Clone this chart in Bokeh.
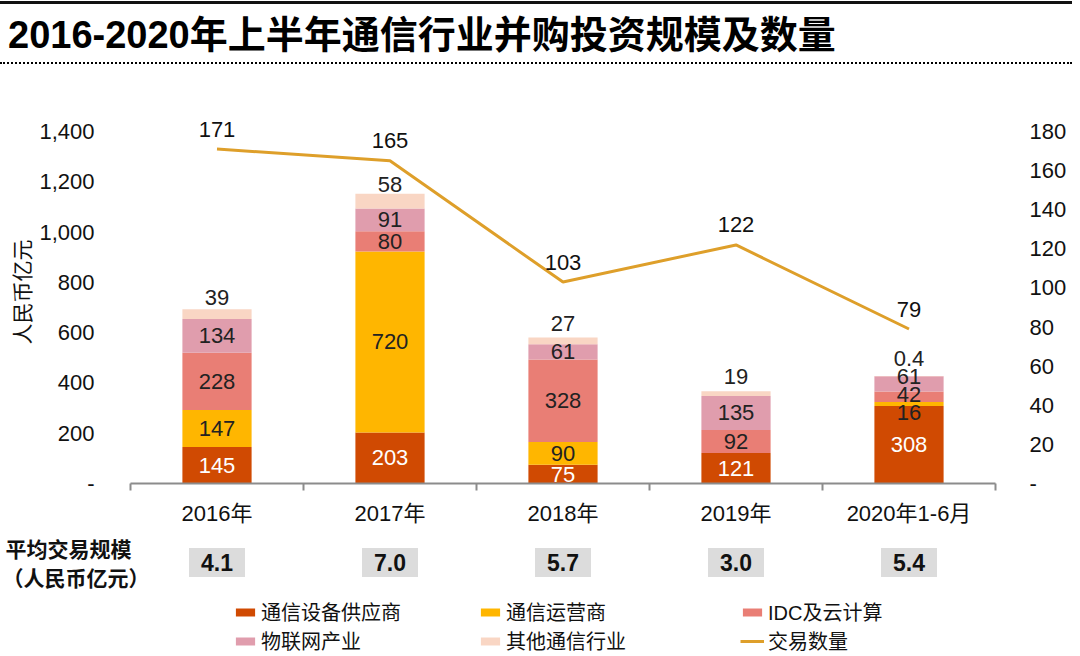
from bokeh.plotting import figure
from bokeh.models import (ColumnDataSource, Range1d, LinearAxis, FixedTicker, NumeralTickFormatter,
                          Label, Legend, LegendItem, Div)
from bokeh.layouts import column
from bokeh.core.properties import value
from bokeh.embed import file_html
from bokeh.resources import INLINE

# ---------------- data ----------------
title_text = "2016-2020年上半年通信行业并购投资规模及数量"
years = ["2016年", "2017年", "2018年", "2019年", "2020年1-6月"]
series_names = ["通信设备供应商", "通信运营商", "IDC及云计算", "物联网产业", "其他通信行业"]
equipment = [145, 203, 75, 121, 308]
operators = [147, 720, 90, 0, 16]
idc_cloud = [228, 80, 328, 92, 42]
iot = [134, 91, 61, 135, 61]
other = [39, 58, 27, 19, 0.4]
deal_count = [171, 165, 103, 122, 79]
avg_size = [4.1, 7.0, 5.7, 3.0, 5.4]
line_name = "交易数量"
avg_label_1 = "平均交易规模"
avg_label_2 = "（人民币亿元）"
y_label = "人民币亿元"
left_ticks = [0, 200, 400, 600, 800, 1000, 1200, 1400]
right_ticks = [0, 20, 40, 60, 80, 100, 120, 140, 160, 180]

# ---------------- style ----------------
colors = ["#D04A02", "#FFB600", "#E97E75", "#E09DAD", "#F9D6C4"]
label_colors = ["#FFFFFF", "#222222", "#222222", "#222222", "#222222"]
line_color = "#DE9F2A"
FONT = "Liberation Sans, Noto Sans CJK SC"
W, H_DIV = 1080, 68
FRAME_L, FRAME_R, FRAME_T = 130, 85, 32
FRAME_BOTTOM_Y = 483           # page y of the x axis
MAIN_BOTTOM_Y = 535            # page y where the main figure ends
H_FIG = MAIN_BOTTOM_Y - H_DIV
FRAME_B = MAIN_BOTTOM_Y - FRAME_BOTTOM_Y
H_LOW = 656 - MAIN_BOTTOM_Y
frame_h = H_FIG - FRAME_T - FRAME_B
y_end = 1400 * frame_h / 352.0
r_end = 180 * frame_h / 352.0
px_per_unit = frame_h / y_end

series = [equipment, operators, idc_cloud, iot, other]
n = len(years)
xs = [i + 0.5 for i in range(n)]
unit_px = (W - FRAME_L - FRAME_R) / n

p = figure(width=W, height=H_FIG, output_backend="svg", toolbar_location=None,
           x_range=Range1d(0, n), y_range=Range1d(0, y_end),
           min_border_left=FRAME_L, min_border_right=FRAME_R,
           min_border_top=FRAME_T, min_border_bottom=FRAME_B,
           outline_line_color=None, background_fill_color="white", border_fill_color="white")
p.margin = (0, 0, 0, 0)
p.frame_align = False
p.grid.visible = False
p.extra_y_ranges = {"cnt": Range1d(0, r_end)}

# x axis: category labels at centres, small tick marks at category boundaries
xa = p.xaxis[0]
xa.ticker = FixedTicker(ticks=xs, minor_ticks=list(range(n + 1)))
xa.major_label_overrides = {x: y for x, y in zip(xs, years)}
xa.axis_line_color = "#8C8C8C"
xa.axis_line_width = 2
xa.major_tick_line_color = None
xa.major_tick_out = 0
xa.minor_tick_line_color = "#8C8C8C"
xa.minor_tick_line_width = 2
xa.minor_tick_out = 7
xa.minor_tick_in = 0
xa.major_label_standoff = 10
xa.major_label_text_font = FONT
xa.major_label_text_font_size = "22px"
xa.major_label_text_color = "#111111"

ya = p.yaxis[0]
ya.ticker = FixedTicker(ticks=left_ticks)
ya.formatter = NumeralTickFormatter(format="0,0")
ya.major_label_overrides = {0: "-"}
ya.axis_line_color = None
ya.major_tick_line_color = None
ya.minor_tick_line_color = None
ya.major_label_standoff = 30
ya.major_label_text_font = FONT
ya.major_label_text_font_size = "22px"
ya.major_label_text_color = "#111111"
ya.axis_label = y_label
ya.axis_label_text_font = FONT
ya.axis_label_text_font_size = "21px"
ya.axis_label_text_font_style = "normal"
ya.axis_label_text_color = "#111111"
ya.axis_label_standoff = 2

ra = LinearAxis(y_range_name="cnt", ticker=FixedTicker(ticks=right_ticks))
ra.major_label_overrides = {0: "-"}
ra.axis_line_color = None
ra.major_tick_line_color = None
ra.minor_tick_line_color = None
ra.major_label_standoff = 28
ra.major_label_text_font = FONT
ra.major_label_text_font_size = "22px"
ra.major_label_text_color = "#111111"
p.add_layout(ra, "right")

# stacked bars
bottoms = [0.0] * n
per_bar_labels = [[] for _ in range(n)]
for s_i, (vals, col) in enumerate(zip(series, colors)):
    tops = [b + v for b, v in zip(bottoms, vals)]
    src = ColumnDataSource(dict(x=xs, bottom=bottoms, top=tops))
    p.vbar(x="x", bottom="bottom", top="top", width=0.4, source=src,
           fill_color=col, line_color=None)
    for i in range(n):
        if vals[i] > 0:
            centre = (bottoms[i] + tops[i]) / 2.0
            if s_i == len(series) - 1:
                centre += 17 / px_per_unit  # "other" label sits just above the bar
            per_bar_labels[i].append([centre, vals[i], label_colors[s_i]])
    bottoms = tops

# spread labels that would overlap (min spacing ~18px)
min_gap = 18 / px_per_unit
label_x, label_y, label_t, label_c = [], [], [], []
for i in range(n):
    labs = per_bar_labels[i]
    for _ in range(200):
        for k in range(len(labs) - 1):
            gap = labs[k + 1][0] - labs[k][0]
            if gap < min_gap:
                d = (min_gap - gap) / 2.0
                labs[k][0] -= d
                labs[k + 1][0] += d
    for yv, v, c in labs:
        label_x.append(xs[i])
        label_y.append(yv)
        label_t.append(("%g" % v))
        label_c.append(c)

lab_src = ColumnDataSource(dict(x=label_x, y=label_y, t=label_t, c=label_c))
p.text(x="x", y="y", text="t", source=lab_src, text_color="c", text_align="center",
       text_baseline="middle", text_font=value(FONT), text_font_size="22px")

# deal-count line
line_src = ColumnDataSource(dict(x=xs, y=deal_count, t=[str(v) for v in deal_count]))
p.line(x="x", y="y", source=line_src, y_range_name="cnt", line_color=line_color, line_width=3)
p.text(x="x", y="y", text="t", source=line_src, y_range_name="cnt", y_offset=-20,
       text_align="center", text_baseline="middle", text_color="#111111",
       text_font=value(FONT), text_font_size="22px")

# ---------------- lower strip: average deal size + legend ----------------
q = figure(width=W, height=H_LOW, output_backend="svg", toolbar_location=None,
           x_range=Range1d(-FRAME_L / unit_px, n + FRAME_R / unit_px),
           y_range=Range1d(H_LOW, 0),
           x_axis_location=None, y_axis_location=None,
           min_border=0, min_border_left=0, min_border_right=0, min_border_top=0, min_border_bottom=0,
           outline_line_color=None, background_fill_color="white", border_fill_color="white")
q.margin = (0, 0, 0, 0)
q.frame_align = False
q.grid.visible = False

row_y = 562 - MAIN_BOTTOM_Y
avg_src = ColumnDataSource(dict(x=xs, t=["%.1f" % v for v in avg_size]))
q.rect(x="x", y=row_y, width=56 / unit_px, height=29, source=avg_src,
       fill_color="#DCDCDC", line_color=None)
q.text(x="x", y=row_y, text="t", source=avg_src, text_align="center", text_baseline="middle",
       text_font=value(FONT), text_font_size="23px", text_font_style="bold", text_color="#111111")

q.add_layout(Label(x=5, y=H_LOW - (549 - MAIN_BOTTOM_Y), x_units="screen", y_units="screen",
                   text=avg_label_1, text_align="left", text_baseline="middle",
                   text_font=FONT, text_font_size="21px", text_font_style="bold", text_color="#111111"))
q.add_layout(Label(x=2, y=H_LOW - (578 - MAIN_BOTTOM_Y), x_units="screen", y_units="screen",
                   text=avg_label_2, text_align="left", text_baseline="middle",
                   text_font=FONT, text_font_size="21px", text_font_style="bold", text_color="#111111"))

# legend proxies (same styles as the chart's marks; NaN data so nothing is drawn in the strip)
nan = float("nan")
proxies = []
for col in colors:
    proxies.append(q.vbar(x=[nan], top=[nan], width=0.4, fill_color=col, line_color=None))
proxies.append(q.line(x=[nan, nan], y=[nan, nan], line_color=line_color, line_width=3))
names = series_names + [line_name]
order = [[0, 3], [1, 4], [2, 5]]
col_x = [233, 478, 740]
for cx, idxs in zip(col_x, order):
    items = [LegendItem(label=names[k], renderers=[proxies[k]]) for k in idxs]
    lg = Legend(items=items, location=(cx, H_LOW - (655 - MAIN_BOTTOM_Y)), orientation="vertical",
                background_fill_alpha=0, border_line_color=None, padding=0, margin=0,
                spacing=0, glyph_width=24, glyph_height=10, label_height=24,
                label_standoff=4, label_text_font=FONT, label_text_font_size="20px",
                label_text_color="#111111", label_text_baseline="middle")
    q.add_layout(lg, "center")

title_html = (
    '<div style="position:relative;width:1080px;height:68px;background:white;">'
    '<div style="position:absolute;left:0;top:1px;width:1072px;height:3px;background:#111;"></div>'
    '<div style="position:absolute;left:8px;top:10px;white-space:nowrap;color:#000;'
    "font-family:'Liberation Sans','Noto Sans CJK SC';font-weight:bold;font-size:38px;line-height:50px;\">"
    + title_text +
    '</div>'
    '<div style="position:absolute;left:0;top:62px;width:1072px;border-top:2px dotted #000;"></div>'
    '</div>'
)
div = Div(text=title_html, width=W, height=H_DIV, margin=(0, 0, 0, 0))

layout = column(div, p, q, spacing=0, margin=(0, 0, 0, 0))
open("out.html", "w").write(file_html(layout, INLINE))
